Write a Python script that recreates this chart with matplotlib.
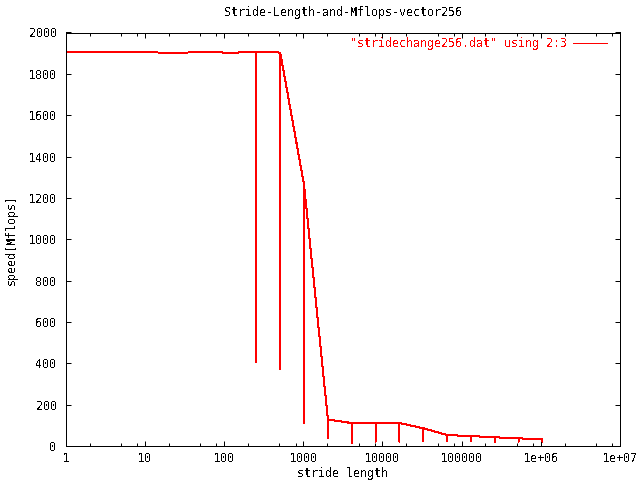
import matplotlib
matplotlib.use("Agg")
import matplotlib.pyplot as plt
from matplotlib.ticker import LogLocator, FixedLocator, FixedFormatter, NullFormatter

# ---- data ----
stride = [1, 2, 4, 8, 16, 32, 64, 128, 256, 512, 1024, 2048, 4096, 8192,
          16384, 32768, 65536, 131072, 262144, 524288, 1048576]
mflops = [1908, 1906, 1904, 1905, 1903, 1903, 1905, 1902, 1907, 1903, 1262,
          128, 111, 111, 111, 86, 53, 48, 42, 37, 32]
mflops_low = [None, None, None, None, None, None, None, None, 405, 370, 110,
              37, 16, 21, 21, 26, 26, 26, 21, 21, 21]
xtick_vals = [1, 10, 100, 1000, 10000, 100000, 1000000, 10000000]
xtick_labels = ["1", "10", "100", "1000", "10000", "100000", "1e+06", "1e+07"]
ytick_vals = list(range(0, 2001, 200))

title = "Stride-Length-and-Mflops-vector256"
legend_label = '"stridechange256.dat" using 2:3'

# build the plotted sequence (each low sample drawn as a vertical drop)
xs, ys = [], []
for s, hi, lo in zip(stride, mflops, mflops_low):
    xs.append(s); ys.append(hi)
    if lo is not None:
        xs += [s, s]; ys += [lo, hi]

FS = 8.4
plt.rcParams['font.family'] = ['DejaVu Sans Mono']
plt.rcParams['font.size'] = FS
plt.rcParams['text.antialiased'] = False

fig = plt.figure(figsize=(6.4, 4.8), dpi=100)
ax = fig.add_axes([65.7 / 640, 1 - 446 / 480, (620 - 65.7) / 640, (446 - 32.5) / 480])

ax.plot(xs, ys, color='#ff0000', lw=0.72, antialiased=False, label=legend_label)

ax.set_xscale('log')
ax.set_xlim(1, 1e7)
ax.set_ylim(0, 2000)

ax.xaxis.set_major_locator(FixedLocator(xtick_vals))
ax.xaxis.set_major_formatter(FixedFormatter(xtick_labels))
ax.xaxis.set_minor_locator(LogLocator(base=10, subs=(2, 5, 8), numticks=20))
ax.xaxis.set_minor_formatter(NullFormatter())
ax.set_yticks(ytick_vals)
ax.set_yticklabels([str(v) for v in ytick_vals])

ax.tick_params(which='both', direction='in', top=True, right=True, width=0.72,
               color='black', labelsize=FS)
ax.tick_params(which='major', length=3.6)
ax.tick_params(which='minor', length=1.9)
ax.tick_params(axis='x', pad=4)
ax.tick_params(axis='y', pad=6.5)
for sp in ax.spines.values():
    sp.set_linewidth(0.72)
    sp.set_antialiased(False)

ax.set_title(title, fontsize=FS, pad=12)
ax.set_xlabel("stride length", fontsize=FS, labelpad=1.5)
ax.set_ylabel("speed[Mflops]", fontsize=FS, labelpad=8)

leg = ax.legend(loc='upper right', frameon=False, markerfirst=False,
                handlelength=2.9, borderaxespad=0, borderpad=0, fontsize=FS,
                handletextpad=0.55,
                bbox_to_anchor=((607 - 65.7) / 554.3, (446 - 37.5) / 413.5))
for t in leg.get_texts():
    t.set_color('#ff0000')
for h in leg.get_lines():
    h.set_antialiased(False)

fig.savefig("out.png", dpi=100)
